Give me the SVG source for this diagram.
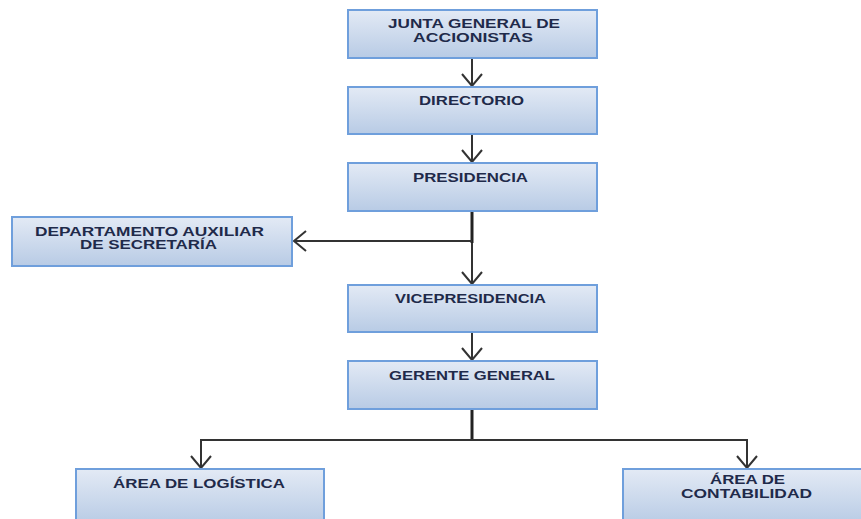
<svg xmlns="http://www.w3.org/2000/svg" width="861" height="519" viewBox="0 0 861 519">
<defs>
<linearGradient id="g" x1="0" y1="0" x2="0" y2="1">
<stop offset="0" stop-color="#e3eaf5"/>
<stop offset="1" stop-color="#b8cbe5"/>
</linearGradient>
<marker id="arr" viewBox="0 0 14 22" refX="13" refY="11" markerWidth="14" markerHeight="22" markerUnits="userSpaceOnUse" orient="auto-start-reverse">
<path d="M1,1 L13,11 L1,21" fill="none" stroke="#333" stroke-width="2"/>
</marker>
</defs>
<style>
.box{fill:url(#g);stroke:#6f9fdc;stroke-width:2}
.t{font-family:"Liberation Sans",Arial,sans-serif;font-weight:bold;font-size:12.5px;fill:#1f2a4a;text-anchor:middle}
.c{fill:none;stroke:#333;stroke-width:2}
</style>
<g id="connectors">
<path class="c" d="M472,58 V86" marker-end="url(#arr)"/>
<path class="c" d="M472,134 V162" marker-end="url(#arr)"/>
<path class="c" d="M472,211 V284" marker-end="url(#arr)"/>
<path d="M472,211 V243" stroke="#222" stroke-width="3" fill="none"/>
<path class="c" d="M472,241 H294" marker-end="url(#arr)"/>
<path class="c" d="M472,332 V360" marker-end="url(#arr)"/>
<path d="M472,409 V440" stroke="#222" stroke-width="3" fill="none"/>
<path class="c" d="M201,468 V440 H747 V468" marker-start="url(#arr)" marker-end="url(#arr)"/>
</g>
<g id="junta"><rect class="box" x="348" y="10" width="249" height="48"/><text class="t" x="474" y="28" textLength="172" lengthAdjust="spacingAndGlyphs">JUNTA GENERAL DE</text><text class="t" x="473" y="41.5" textLength="120" lengthAdjust="spacingAndGlyphs">ACCIONISTAS</text></g>
<g id="directorio"><rect class="box" x="348" y="87" width="249" height="47"/><text class="t" x="471.5" y="105" textLength="105" lengthAdjust="spacingAndGlyphs">DIRECTORIO</text></g>
<g id="presidencia"><rect class="box" x="348" y="163" width="249" height="48"/><text class="t" x="470.5" y="182" textLength="115" lengthAdjust="spacingAndGlyphs">PRESIDENCIA</text></g>
<g id="secretaria"><rect class="box" x="12" y="217" width="280" height="49"/><text class="t" x="149.5" y="236" textLength="229" lengthAdjust="spacingAndGlyphs">DEPARTAMENTO AUXILIAR</text><text class="t" x="148.5" y="249" textLength="137" lengthAdjust="spacingAndGlyphs">DE SECRETARÍA</text></g>
<g id="vicepresidencia"><rect class="box" x="348" y="285" width="249" height="47"/><text class="t" x="470.5" y="303" textLength="151" lengthAdjust="spacingAndGlyphs">VICEPRESIDENCIA</text></g>
<g id="gerente"><rect class="box" x="348" y="361" width="249" height="48"/><text class="t" x="472" y="380" textLength="166" lengthAdjust="spacingAndGlyphs">GERENTE GENERAL</text></g>
<g id="logistica"><rect class="box" x="76" y="469" width="248" height="55"/><text class="t" x="199" y="488" textLength="172" lengthAdjust="spacingAndGlyphs">ÁREA DE LOGÍSTICA</text></g>
<g id="contabilidad"><rect class="box" x="623" y="469" width="245" height="55"/><text class="t" x="747.5" y="484" textLength="75" lengthAdjust="spacingAndGlyphs">ÁREA DE</text><text class="t" x="746.5" y="498" textLength="131" lengthAdjust="spacingAndGlyphs">CONTABILIDAD</text></g>
</svg>
